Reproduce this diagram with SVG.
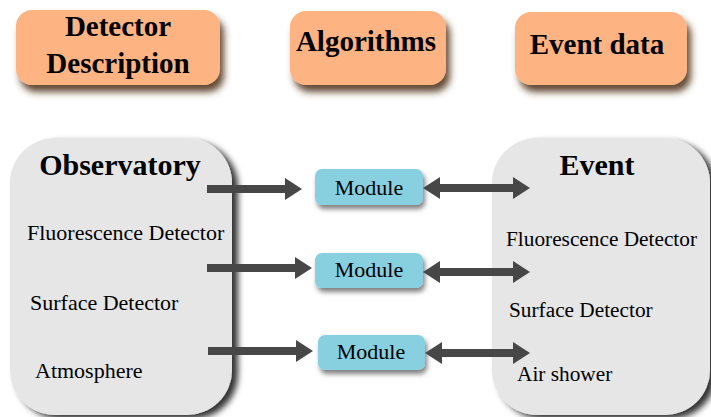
<svg xmlns="http://www.w3.org/2000/svg" width="711" height="417" viewBox="0 0 711 417">
<style>
.hdr{fill:#FDB382;filter:url(#shHdr)}
.big{fill:#E6E6E6;filter:url(#shBig)}
.mod{fill:#88CFDF;filter:url(#shMod)}
text{font-family:'Liberation Serif','DejaVu Serif',serif;fill:#000}
.tb{font-weight:bold;text-anchor:middle}
.arr{stroke:#474747;stroke-width:8;fill:none}
</style>
<defs>
<filter id="shHdr" x="-20%" y="-30%" width="140%" height="170%">
<feDropShadow dx="4" dy="7" stdDeviation="3.5" flood-color="#4a2a10" flood-opacity="0.85"/>
</filter>
<filter id="shBig" x="-10%" y="-10%" width="130%" height="130%">
<feDropShadow dx="6" dy="4" stdDeviation="3" flood-color="#000" flood-opacity="0.8"/>
</filter>
<filter id="shMod" x="-20%" y="-30%" width="140%" height="170%">
<feDropShadow dx="2" dy="4" stdDeviation="2.5" flood-color="#000" flood-opacity="0.5"/>
</filter>
<marker id="ah" markerUnits="userSpaceOnUse" markerWidth="17" markerHeight="22" viewBox="0 0 17 22" refX="0" refY="11" orient="auto-start-reverse">
<path d="M0,0 L17,11 L0,22 z" fill="#474747"/>
</marker>
</defs>

<g id="detector-description">
<rect class="hdr" x="16" y="10" width="204" height="75" rx="16"/>
<text class="tb" x="118" y="36" font-size="29">Detector</text>
<text class="tb" x="118" y="73" font-size="29">Description</text>
</g>
<g id="algorithms">
<rect class="hdr" x="290" y="11" width="156" height="74" rx="16"/>
<text class="tb" x="366" y="51" font-size="29">Algorithms</text>
</g>
<g id="event-data">
<rect class="hdr" x="515" y="12" width="172" height="73" rx="16"/>
<text class="tb" x="597" y="54" font-size="29">Event data</text>
</g>

<g id="observatory">
<rect class="big" x="10" y="138" width="222" height="277" rx="45"/>
<text class="tb" x="120" y="175" font-size="30">Observatory</text>
<text x="27" y="240" font-size="22">Fluorescence Detector</text>
<text x="30" y="310" font-size="22">Surface Detector</text>
<text x="35" y="378" font-size="22">Atmosphere</text>
</g>
<g id="event">
<rect class="big" x="492" y="138" width="218" height="277" rx="45"/>
<text class="tb" x="597" y="175" font-size="30">Event</text>
<text x="506" y="246" font-size="21.3">Fluorescence Detector</text>
<text x="509" y="317" font-size="21.3">Surface Detector</text>
<text x="517" y="381" font-size="21.3">Air shower</text>
</g>

<g id="module-1">
<rect class="mod" x="315" y="169" width="108" height="36" rx="7"/>
<text x="369" y="195" font-size="22" text-anchor="middle">Module</text>
</g>
<g id="module-2">
<rect class="mod" x="315" y="253" width="108" height="35" rx="7"/>
<text x="369" y="277" font-size="22" text-anchor="middle">Module</text>
</g>
<g id="module-3">
<rect class="mod" x="318" y="335" width="107" height="35" rx="7"/>
<text x="371" y="359" font-size="22" text-anchor="middle">Module</text>
</g>

<g id="connectors">
<line class="arr" x1="207" y1="189" x2="285" y2="189" marker-end="url(#ah)"/>
<line class="arr" x1="440" y1="188" x2="513" y2="188" marker-start="url(#ah)" marker-end="url(#ah)"/>
<line class="arr" x1="207" y1="268" x2="295" y2="268" marker-end="url(#ah)"/>
<line class="arr" x1="440" y1="272" x2="513" y2="272" marker-start="url(#ah)" marker-end="url(#ah)"/>
<line class="arr" x1="208" y1="351" x2="296" y2="351" marker-end="url(#ah)"/>
<line class="arr" x1="442" y1="353" x2="513" y2="353" marker-start="url(#ah)" marker-end="url(#ah)"/>
</g>
</svg>
